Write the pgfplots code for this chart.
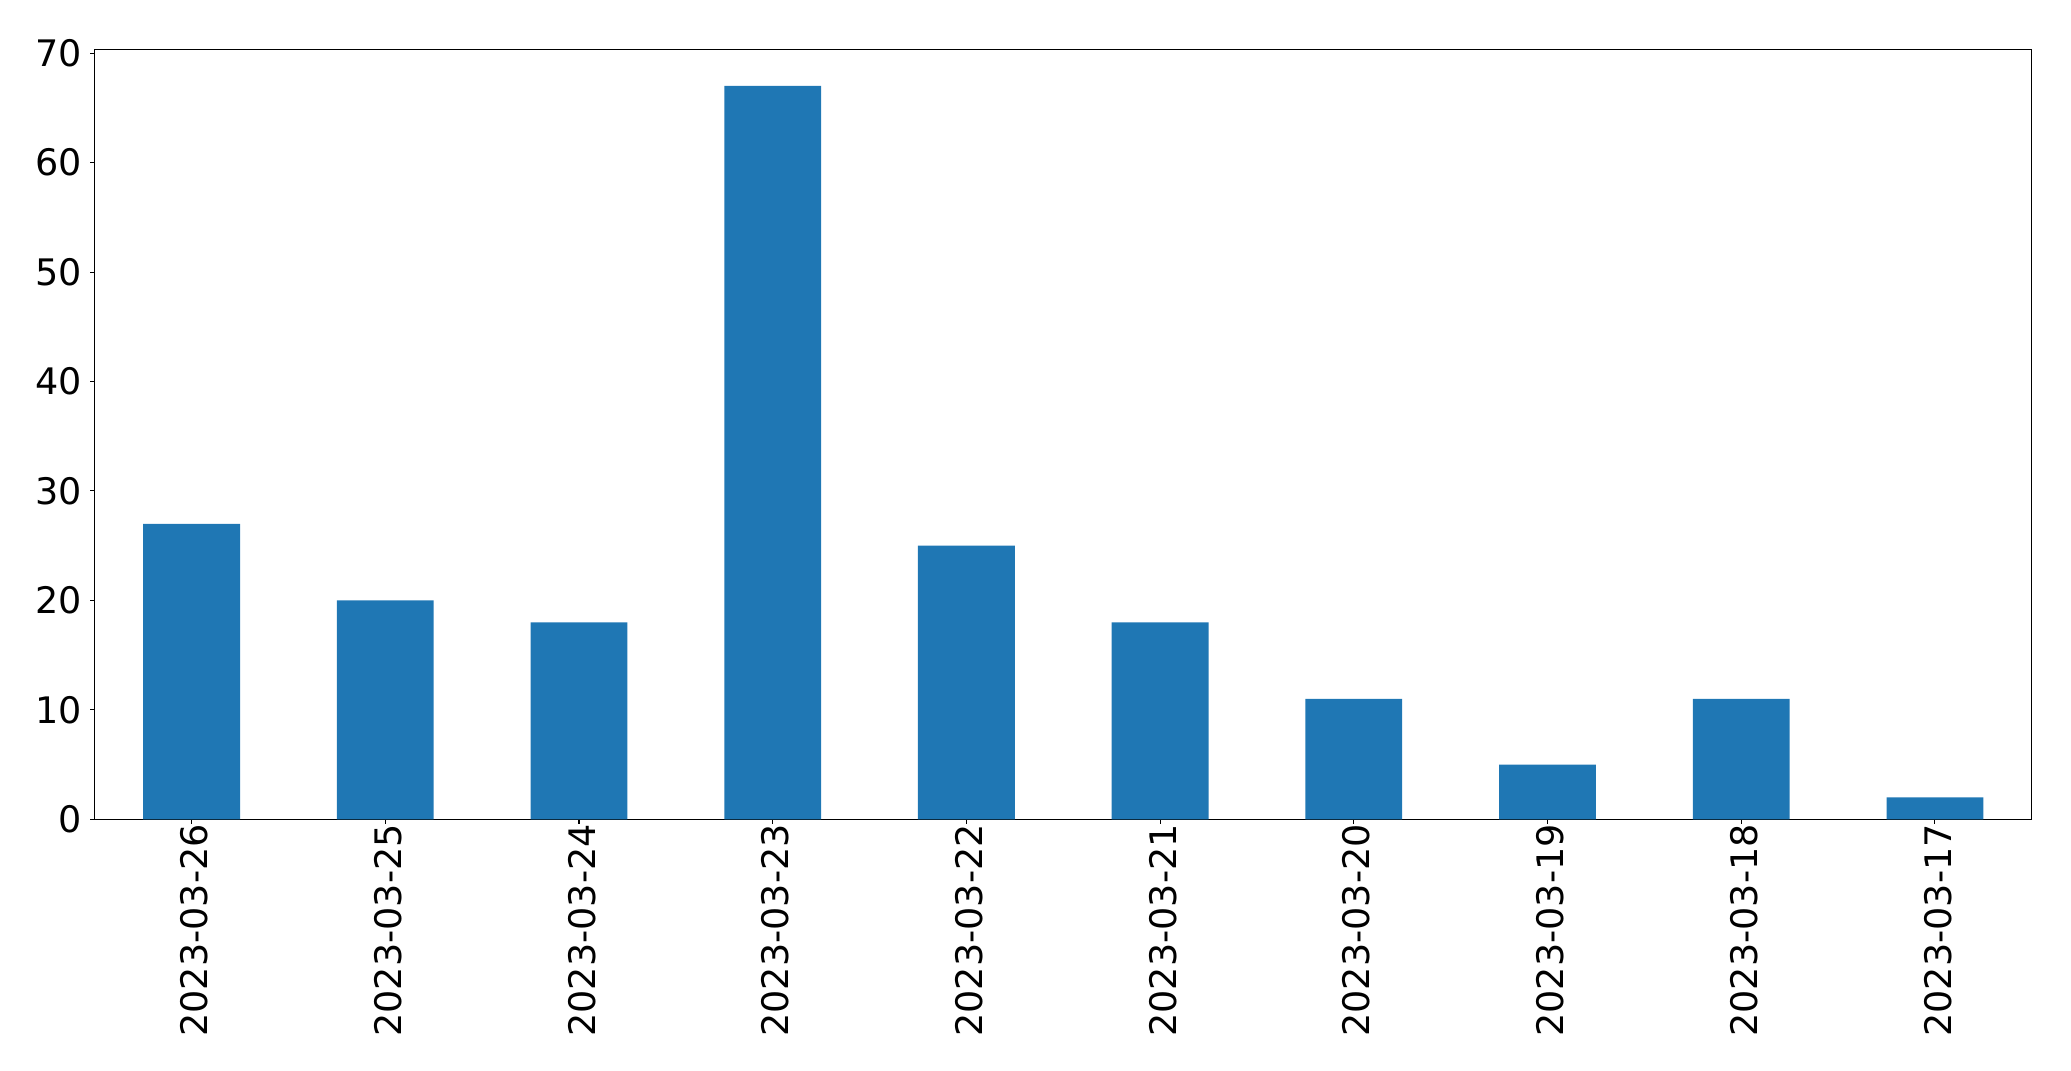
\documentclass[border=0pt]{standalone}
\usepackage{fontspec}
\setmainfont{DejaVu Sans}
\usepackage{pgfplots}
\pgfplotsset{compat=1.18}
\definecolor{mplblue}{HTML}{1F77B4}
\begin{document}
\fontsize{26.3pt}{31pt}\selectfont
\begin{tikzpicture}
\useasboundingbox (-68.2pt,-181.2pt) rectangle (1422.9pt,589.9pt);
\begin{axis}[
  at={(0,0)}, anchor=south west,
  scale only axis,
  width=1394.6pt, height=554.4pt,
  xmin=-0.5, xmax=9.5, ymin=0, ymax=70.35,
  ytick={0,10,20,30,40,50,60,70},
  xtick={0,1,2,3,4,5,6,7,8,9},
  xticklabels={2023-03-26,2023-03-25,2023-03-24,2023-03-23,2023-03-22,2023-03-21,2023-03-20,2023-03-19,2023-03-18,2023-03-17},
  tick align=outside,
  major tick length=3.3pt,
  tick style={line width=0.75pt, black},
  axis line style={line width=0.75pt},
  xtick pos=bottom, ytick pos=left,
  /pgf/number format/assume math mode=true,
  tick label style={font=\fontsize{26.3pt}{31pt}\selectfont},
  yticklabel style={inner sep=0pt, anchor=east, xshift=-6pt},
  xticklabel style={inner sep=0pt, rotate=90, anchor=east, yshift=-2pt},
  ybar, bar width=0.5,
]
\addplot[fill=mplblue, draw=none] coordinates {
  (0,27) (1,20) (2,18) (3,67) (4,25) (5,18) (6,11) (7,5) (8,11) (9,2)
};
\end{axis}
\end{tikzpicture}
\end{document}
